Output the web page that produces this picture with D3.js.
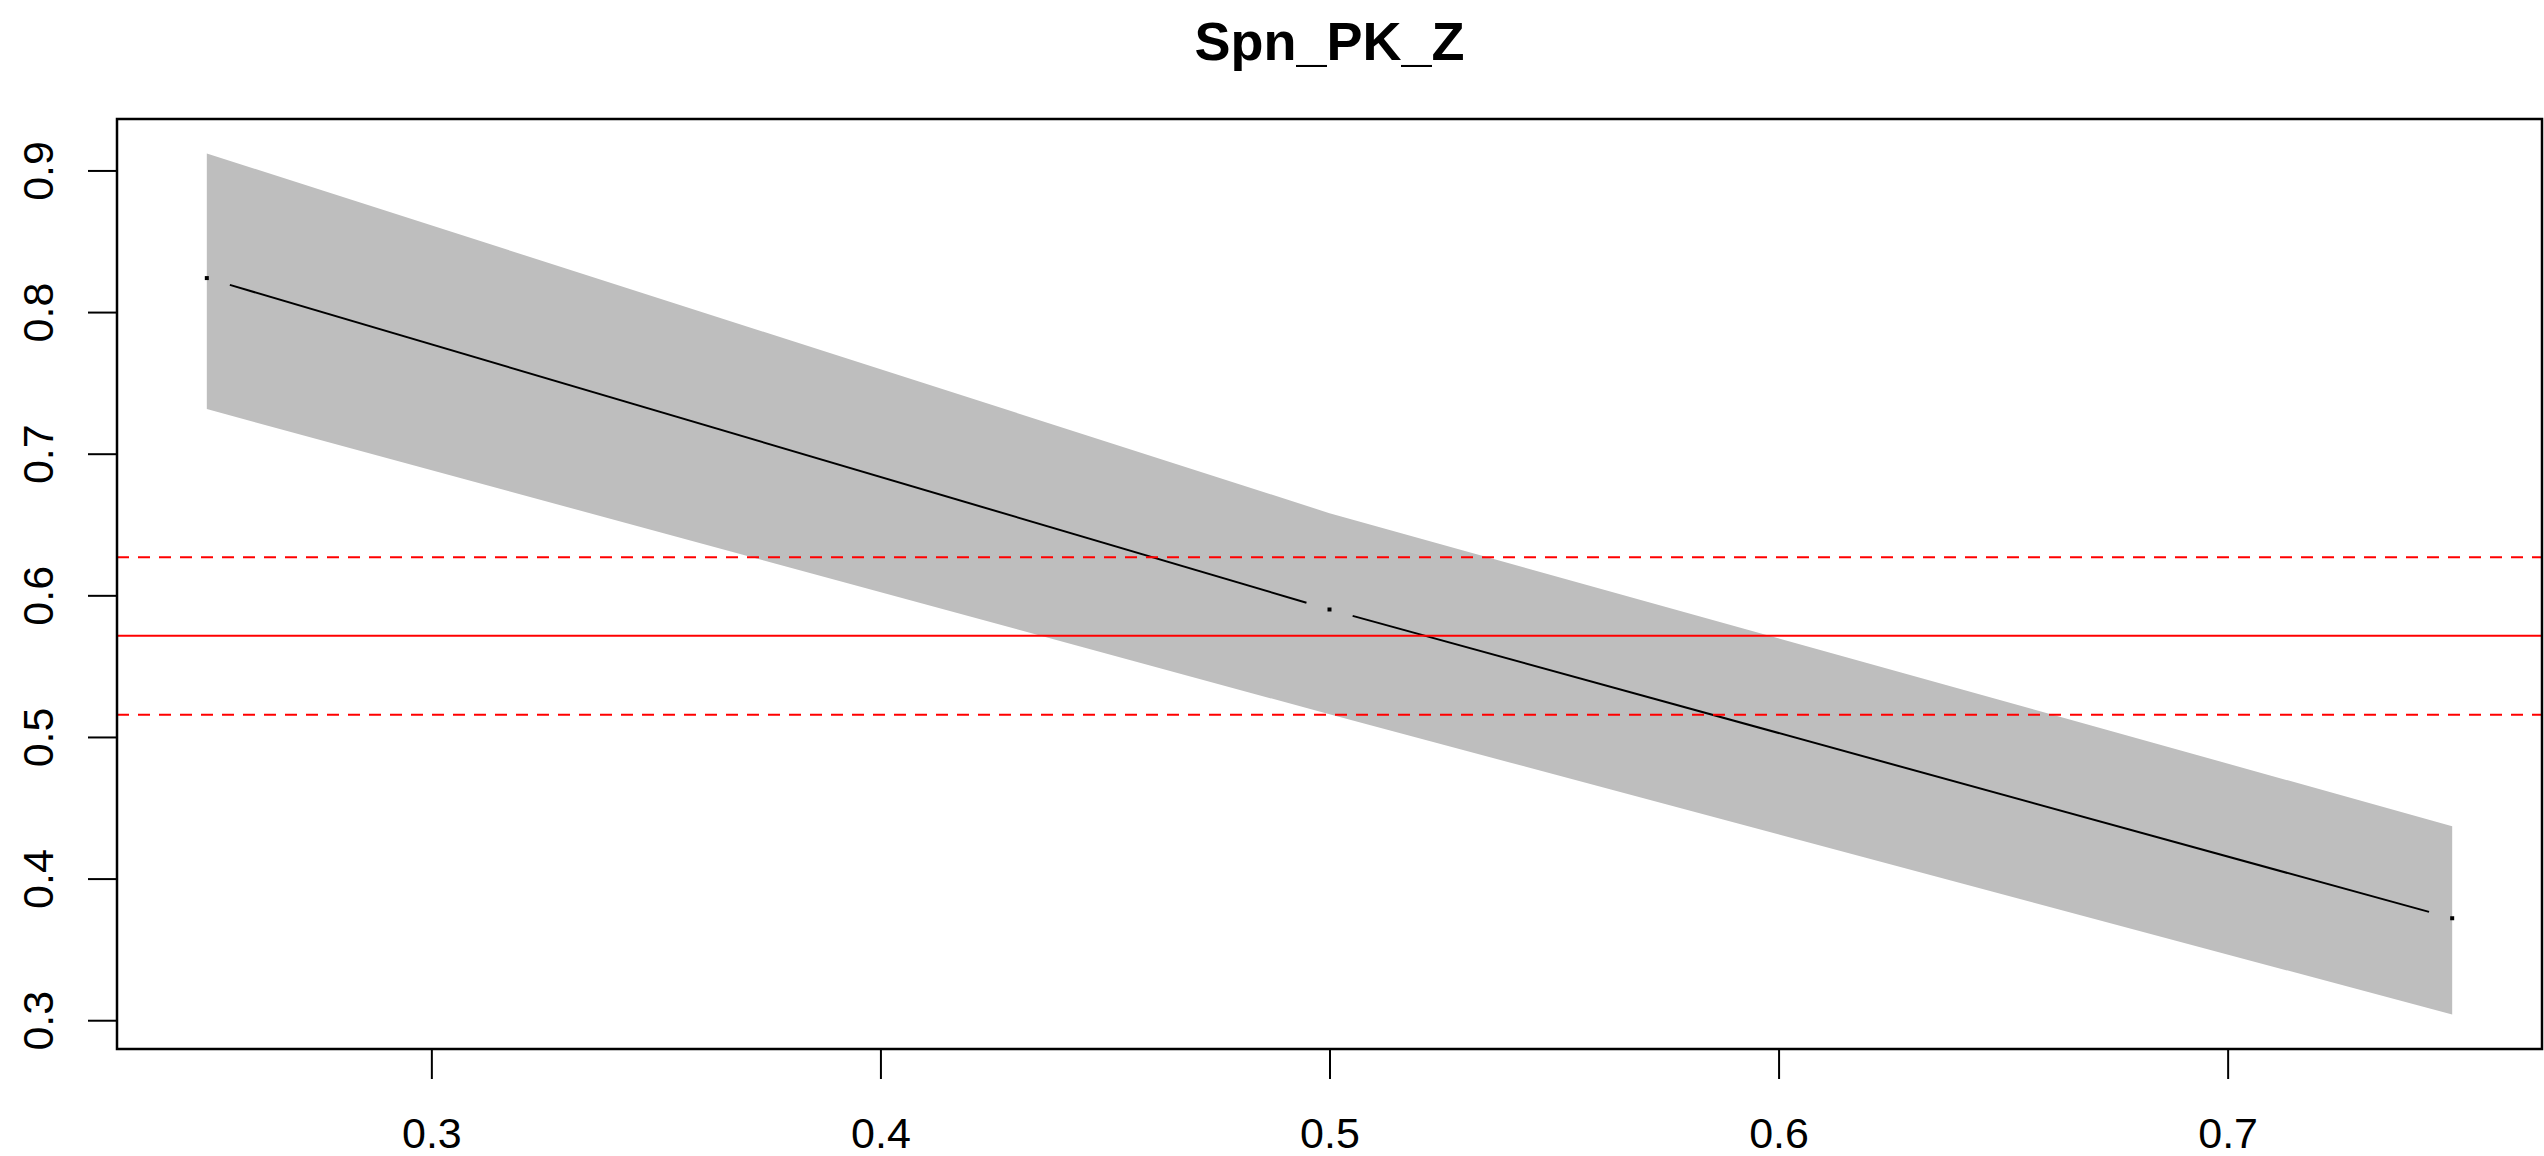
<!DOCTYPE html>
<html>
<head>
<meta charset="utf-8">
<style>
  body { margin: 0; background: #fff; }
  svg { display: block; font-family: "Liberation Sans", Arial, sans-serif; }
</style>
</head>
<body>
<svg width="2544" height="1156"></svg>
<script src="https://d3js.org/d3.v7.min.js"></script>
<script>

  // values
  var xs = [0.25, 0.5, 0.75],
    fit = [0.824, 0.590, 0.372],
    upper = [0.912, 0.658, 0.437],
    lower = [0.7315, 0.516, 0.304];

  var refMid = 0.5714,
    refBand = [0.5157, 0.6269];

  var xTicks = [0.3, 0.4, 0.5, 0.6, 0.7],
    yTicks = [0.3, 0.4, 0.5, 0.6, 0.7, 0.8, 0.9];

  var title = "Spn_PK_Z";

  var svg = d3.select("svg"),
    plot = { left: 117, right: 2542, top: 119, bottom: 1049 };

  // R style axis limits: data range extended by 4% on each side
  function rlim(ext) {
    var d = (ext[1] - ext[0]) * 0.04;
    return [ext[0] - d, ext[1] + d];
  }

  var x = d3.scaleLinear()
    .domain(rlim(d3.extent(xs)))
    .range([plot.left, plot.right]);

  var y = d3.scaleLinear()
    .domain(rlim([d3.min(lower), d3.max(upper)]))
    .range([plot.bottom, plot.top]);

  var data = xs.map(function (v, i) {
    return { x: v, fit: fit[i], lo: lower[i], hi: upper[i] };
  });

  // confidence band
  var area = d3.area()
    .x(function (d) { return x(d.x); })
    .y0(function (d) { return y(d.lo); })
    .y1(function (d) { return y(d.hi); });

  svg.append("path")
    .datum(data)
    .attr("fill", "#bebebe")
    .attr("d", area);

  // fitted line, type = "b": segments stop short of the points
  var gap = 24;
  var line = d3.line();
  for (var i = 0; i < data.length - 1; i++) {
    var x0 = x(data[i].x), y0 = y(data[i].fit),
      x1 = x(data[i + 1].x), y1 = y(data[i + 1].fit);
    var len = Math.hypot(x1 - x0, y1 - y0),
      ux = (x1 - x0) / len, uy = (y1 - y0) / len;
    svg.append("path")
      .attr("fill", "none")
      .attr("stroke", "#000")
      .attr("stroke-width", 2)
      .attr("d", line([[x0 + ux * gap, y0 + uy * gap], [x1 - ux * gap, y1 - uy * gap]]));
  }

  svg.selectAll(".pt")
    .data(data)
    .enter().append("rect")
    .attr("class", "pt")
    .attr("x", function (d) { return x(d.x) - 2; })
    .attr("y", function (d) { return y(d.fit) - 2; })
    .attr("width", 4)
    .attr("height", 4)
    .attr("fill", "#000");

  // reference lines
  var hline = function (v) { return d3.line()([[plot.left, y(v)], [plot.right, y(v)]]); };

  svg.append("path")
    .attr("stroke", "#ff0000")
    .attr("stroke-width", 2)
    .attr("d", hline(refMid));

  svg.selectAll(".ref")
    .data(refBand)
    .enter().append("path")
    .attr("class", "ref")
    .attr("stroke", "#ff0000")
    .attr("stroke-width", 2)
    .attr("stroke-dasharray", "12,9")
    .attr("d", function (d) { return hline(d); });

  // axes
  var xAxis = d3.axisBottom(x)
    .tickValues(xTicks)
    .tickSize(30)
    .tickPadding(38)
    .tickFormat(d3.format(".1f"));

  var gx = svg.append("g")
    .attr("transform", "translate(0," + plot.bottom + ")")
    .call(xAxis);
  gx.select(".domain").remove();
  gx.selectAll("line").attr("stroke", "#000").attr("stroke-width", 2);
  gx.selectAll("text")
    .attr("fill", "#000")
    .style("font-size", "43px");

  var yAxis = d3.axisLeft(y)
    .tickValues(yTicks)
    .tickSize(29)
    .tickFormat(d3.format(".1f"));

  var gy = svg.append("g")
    .attr("transform", "translate(" + plot.left + ",0)")
    .call(yAxis);
  gy.select(".domain").remove();
  gy.selectAll("line").attr("stroke", "#000").attr("stroke-width", 2);
  gy.selectAll("text")
    .attr("x", 0)
    .attr("dy", null)
    .attr("text-anchor", "middle")
    .attr("transform", "translate(" + (53 - plot.left) + ",0) rotate(-90)")
    .attr("fill", "#000")
    .style("font-size", "43px");

  // plot box
  svg.append("rect")
    .attr("x", plot.left)
    .attr("y", plot.top)
    .attr("width", plot.right - plot.left)
    .attr("height", plot.bottom - plot.top)
    .attr("fill", "none")
    .attr("stroke", "#000")
    .attr("stroke-width", 2.5);

  svg.append("text")
    .attr("x", (plot.left + plot.right) / 2)
    .attr("y", 60)
    .attr("text-anchor", "middle")
    .style("font-size", "54px")
    .style("font-weight", "bold")
    .text(title);

</script>
</body>
</html>
